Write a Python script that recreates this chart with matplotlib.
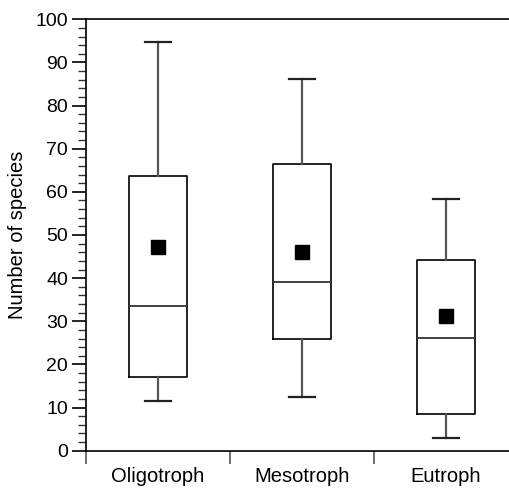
import matplotlib.pyplot as plt
from matplotlib.ticker import MultipleLocator

plt.rcParams['font.family'] = ['Liberation Sans', 'DejaVu Sans']

# trophic classes and species count summaries
categories = ['Oligotroph', 'Mesotroph', 'Eutroph']
whisker_low = [11.5, 12.5, 2.9]
q1 = [17.2, 25.9, 8.6]
median = [33.5, 39.1, 26.1]
q3 = [63.6, 66.4, 44.3]
whisker_high = [94.8, 86.2, 58.3]
mean = [47.2, 46.0, 31.2]

stats = []
for i in range(len(categories)):
    stats.append(dict(label=categories[i], whislo=whisker_low[i], q1=q1[i],
                      med=median[i], q3=q3[i], whishi=whisker_high[i],
                      mean=mean[i], fliers=[]))

fig = plt.figure(figsize=(5.10, 4.88), dpi=100)
ax = fig.add_axes([0.1686, 0.0764, 1.0157 - 0.1686, 0.9605 - 0.0764])

positions = [i + 0.5 for i in range(len(categories))]
ax.bxp(stats, positions=positions, widths=0.4, capwidths=0.18,
       showmeans=True, manage_ticks=False,
       boxprops=dict(color='black', linewidth=1.2),
       whiskerprops=dict(color='#555555', linewidth=1.6),
       capprops=dict(color='#222222', linewidth=1.6),
       medianprops=dict(color='#333333', linewidth=1.3),
       meanprops=dict(marker='s', markerfacecolor='black',
                      markeredgecolor='black', markersize=10))

ax.set_xlim(0, 3)
ax.set_ylim(0, 100)
ax.set_xticks([0, 1, 2, 3])
ax.set_xticklabels([])
ax.set_xticks(positions, minor=True)
ax.set_xticklabels(categories, minor=True, fontsize=14.5)
ax.tick_params(axis='x', which='minor', length=0, pad=11.5)
ax.tick_params(axis='x', which='major', direction='out', length=9, width=1.2, color='#555555')

ax.yaxis.set_major_locator(MultipleLocator(10))
ax.yaxis.set_minor_locator(MultipleLocator(2))
ax.tick_params(axis='y', which='major', direction='out', length=10, width=1.2, labelsize=14, pad=3)
ax.tick_params(axis='y', which='minor', direction='out', length=6, width=1.0, color='#333333')

ax.set_ylabel('Number of species', fontsize=14.5, labelpad=6)

for side in ['left', 'bottom', 'top', 'right']:
    ax.spines[side].set_linewidth(1.2)
    ax.spines[side].set_color('black')

fig.savefig('out.png', dpi=100)
